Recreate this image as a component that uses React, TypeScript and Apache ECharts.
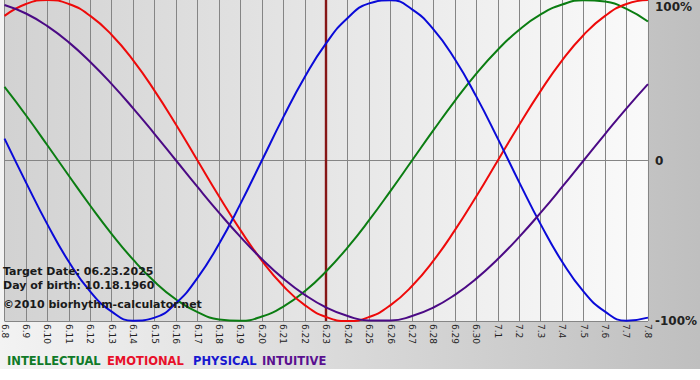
import React, { useEffect, useRef } from "react";
import * as echarts from "echarts";

const days = [
  "6.8", "6.9", "6.10", "6.11", "6.12", "6.13", "6.14", "6.15", "6.16", "6.17",
  "6.18", "6.19", "6.20", "6.21", "6.22", "6.23", "6.24", "6.25", "6.26", "6.27",
  "6.28", "6.29", "6.30", "7.1", "7.2", "7.3", "7.4", "7.5", "7.6", "7.7", "7.8",
];

const intellectual = [
  45.8, 28.2, 9.5, -9.5, -28.2, -45.8, -61.8, -75.6, -86.6, -94.5,
  -99.0, -99.9, -97.2, -91.0, -81.5, -69.0, -54.1, -37.2, -18.9, 0,
  18.9, 37.2, 54.1, 69.0, 81.5, 91.0, 97.2, 99.9, 99.0, 94.5, 86.6,
];

const emotional = [
  90.1, 97.5, 100, 97.5, 90.1, 78.2, 62.4, 43.4, 22.3, 0,
  -22.3, -43.4, -62.4, -78.2, -90.1, -97.5, -100, -97.5, -90.1, -78.2,
  -62.4, -43.4, -22.3, 0, 22.3, 43.4, 62.4, 78.2, 90.1, 97.5, 100,
];

const physical = [
  13.6, -13.6, -39.8, -63.1, -81.7, -94.2, -99.8, -97.9, -88.8, -73.1,
  -52.0, -27.0, 0, 27.0, 52.0, 73.1, 88.8, 97.9, 99.8, 94.2,
  81.7, 63.1, 39.8, 13.6, -13.6, -39.8, -63.1, -81.7, -94.2, -99.8, -97.9,
];

const intuitive = [
  96.9, 91.6, 83.7, 73.6, 61.4, 47.6, 32.5, 16.5, 0, -16.5,
  -32.5, -47.6, -61.4, -73.6, -83.7, -91.6, -96.9, -99.7, -99.7, -96.9,
  -91.6, -83.7, -73.6, -61.4, -47.6, -32.5, -16.5, 0, 16.5, 32.5, 47.6,
];

const targetDay = "6.23";
const infoLines = ["Target Date: 06.23.2025", "Day of birth: 10.18.1960"];
const copyright = "\u00a92010 biorhythm-calculator.net";
const legendNames = ["INTELLECTUAL", "EMOTIONAL", "PHYSICAL", "INTUITIVE"];
const yTickLabels: Record<number, string> = { 100: "100%", 0: "0", [-100]: "-100%" };

const FONT = "DejaVu Sans";
const COLORS = ["#0b7d12", "#ee0a0a", "#0a0ad8", "#4b0a85"];
const LEGEND_COLORS = ["#107a28", "#e8102a", "#1818d0", "#5a1090"];

export default function App() {
  const ref = useRef<HTMLDivElement>(null);

  useEffect(() => {
    if (!ref.current) return;
    const chart = echarts.init(ref.current, undefined, { renderer: "svg" });
    const seriesData = [intellectual, emotional, physical, intuitive];
    const legendX = [7, 107, 193, 262];

    const outerGrad = () =>
      new echarts.graphic.LinearGradient(0, 0, 1, 0, [
        { offset: 0, color: "#f3f3f3" },
        { offset: 1, color: "#bfbfbf" },
      ]);

    chart.setOption({
      animation: false,
      backgroundColor: "transparent",
      grid: {
        left: 0,
        top: 0,
        width: 650,
        height: 321,
        show: true,
        borderWidth: 0,
        backgroundColor: new echarts.graphic.LinearGradient(0, 0, 1, 0, [
          { offset: 0, color: "#d2d2d2" },
          { offset: 1, color: "#fafafa" },
        ]),
      },
      xAxis: {
        type: "category",
        data: days,
        boundaryGap: false,
        axisLine: { show: false },
        axisTick: { show: false },
        splitLine: { show: true, interval: 0, lineStyle: { color: "#858585", width: 1 } },
        axisLabel: {
          interval: 0,
          rotate: -90,
          margin: 3,
          fontFamily: FONT,
          fontSize: 9,
          color: "#222",
        },
      },
      yAxis: {
        type: "value",
        position: "right",
        min: -100,
        max: 100,
        interval: 100,
        axisLine: { show: false },
        axisTick: { show: false },
        splitLine: {
          show: true,
          lineStyle: { color: ["#858585", "#858585", "rgba(0,0,0,0)"], width: 1 },
        },
        axisLabel: {
          margin: 7,
          fontFamily: FONT,
          fontSize: 12,
          fontWeight: "bold",
          color: "#222",
          formatter: (v: number) => {
            const t = yTickLabels[v] ?? "";
            if (v === 100) return "{t|" + t + "}";
            return t;
          },
          rich: {
            t: {
              fontFamily: FONT,
              fontSize: 12,
              fontWeight: "bold",
              color: "#222",
              padding: [13, 0, 0, 0],
            },
          },
        },
      },
      series: [
        ...seriesData.map((d, i) => ({
          type: "line",
          name: legendNames[i],
          data: d,
          smooth: true,
          showSymbol: false,
          symbol: "none",
          lineStyle: { color: COLORS[i], width: 2 },
          itemStyle: { color: COLORS[i] },
          z: 3,
          ...(i === 0
            ? {
                markLine: {
                  silent: true,
                  symbol: "none",
                  label: { show: false },
                  lineStyle: { color: "#861616", width: 2.4, type: "solid" },
                  data: [{ xAxis: targetDay }],
                  z: 2,
                },
              }
            : {}),
        })),
      ],
      graphic: [
        ...infoLines.map((t, i) => ({
          type: "text",
          left: 3,
          top: 266 + i * 14,
          z: 100,
          style: {
            text: t,
            fontFamily: FONT,
            fontSize: 11,
            fontWeight: "bold",
            fill: "#1a1a1a",
          },
        })),
        {
          type: "text",
          left: 3,
          top: 299,
          z: 100,
          style: {
            text: copyright,
            fontFamily: FONT,
            fontSize: 11,
            fontWeight: "bold",
            fill: "#1a1a1a",
          },
        },
        {
          type: "rect",
          shape: { x: 0, y: 345, width: 700, height: 24 },
          z: 50,
          style: { fill: outerGrad() },
        },
        ...legendNames.map((n, i) => ({
          type: "text",
          left: legendX[i],
          top: 355,
          z: 100,
          style: {
            text: n,
            fontFamily: FONT,
            fontSize: 11.5,
            fontWeight: "bold",
            fill: LEGEND_COLORS[i],
          },
        })),
      ],
    });

    return () => chart.dispose();
  }, []);

  return (
    <div
      ref={ref}
      style={{
        position: "absolute",
        left: 0,
        top: 0,
        width: 700,
        height: 380,
        background:
          "linear-gradient(to right, #f3f3f3, #bfbfbf) 0 0 / 700px 369px no-repeat, #ffffff",
      }}
    />
  );
}
